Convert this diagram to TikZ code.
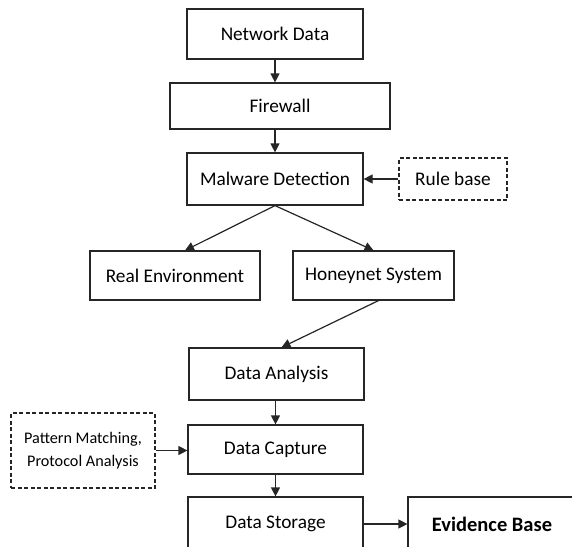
\documentclass[tikz,border=0pt]{standalone}
\usepackage{fontspec}
\setmainfont{Carlito}
\usetikzlibrary{arrows.meta}
\tikzset{
  blk/.style={draw=black!85,line width=1.2pt,inner sep=0pt,font=\fontsize{19.3}{23}\selectfont},
  dblk/.style={blk,dash pattern=on 4pt off 2.5pt},
  arr/.style={line width=1.2pt,black!85,-{Triangle[length=9pt,width=9pt]}}
}

\begin{document}
\begin{tikzpicture}[x=1pt,y=-1pt]
        \clip (0,0) rectangle (572,546);
        \fill[white] (0,0) rectangle (572,546);

        % main chain
        \node[blk,minimum width=176pt,minimum height=50pt] (netdata) at (275,34) {Network Data};
        \node[blk,minimum width=220pt,minimum height=46pt] (firewall) at (280,106) {Firewall};
        \node[blk,minimum width=176pt,minimum height=52pt] (malware) at (275,179) {Malware Detection};
        \node[dblk,minimum width=108pt,minimum height=42pt] (rules) at (453,179) {Rule base};

        \node[blk,minimum width=170pt,minimum height=49pt] (realenv) at (175,275.5) {Real Environment};
        \node[blk,minimum width=161pt,minimum height=49pt] (honeynet) at (373.5,275.5) {Honeynet System};

        \node[blk,minimum width=175pt,minimum height=52pt] (analysis) at (276.5,374) {Data Analysis};
        \node[blk,minimum width=175pt,minimum height=49pt] (capture) at (275.5,449.5) {Data Capture};
        \node[dblk,minimum width=144pt,minimum height=75pt,align=center,
              font=\fontsize{16.2}{23}\selectfont] (pattern) at (83,450.5) {Pattern Matching,\\Protocol Analysis};
        \node[blk,minimum width=175pt,minimum height=54pt] (storage) at (275.5,524) {Data Storage};
        \node[blk,minimum width=168pt,minimum height=54pt,
              font=\fontsize{20.5}{24}\selectfont\bfseries] (evidence) at (492,524) {Evidence Base};

        \draw[arr] (netdata.south) -- (netdata.south |- firewall.north);
        \draw[arr] (malware.north |- firewall.south) -- (malware.north);
        \draw[arr] (rules.west) -- (malware.east);

        \draw[arr] (malware.south) -- ([xshift=10pt]realenv.north);
        \draw[arr] (malware.south) -- (honeynet.north);
        \draw[arr] ([xshift=5pt]honeynet.south) -- ([xshift=5pt]analysis.north);

        \draw[arr] (analysis.south -| capture.north) -- (capture.north);
        \draw[arr] (pattern.east) -- (pattern.east -| capture.west);
        \draw[arr] (capture.south) -- (storage.north);
        \draw[arr] (storage.east) -- (evidence.west);

      \end{tikzpicture}
\end{document}
